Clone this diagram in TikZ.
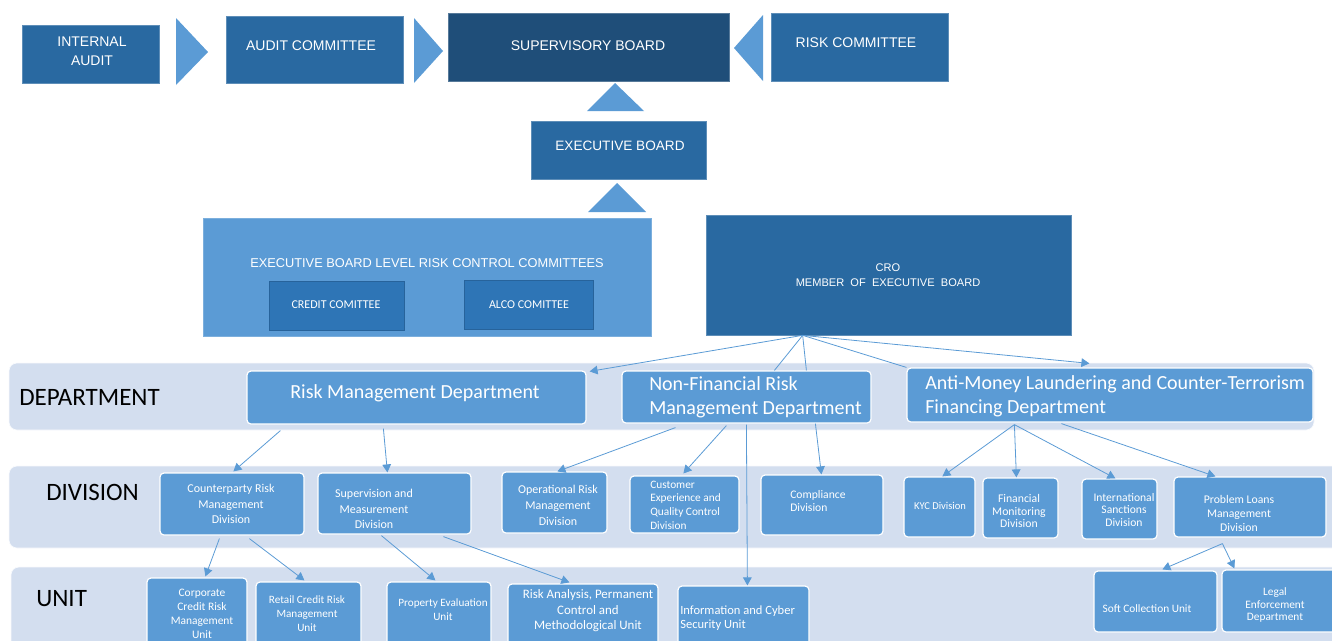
\documentclass[tikz,border=0pt]{standalone}
\usepackage{fontspec}
\setmainfont{Carlito}
\newfontfamily\arialf{Liberation Sans}
\usetikzlibrary{arrows.meta,calc}
\definecolor{midb}{RGB}{41,105,161}
\definecolor{navyb}{RGB}{31,78,121}
\definecolor{accb}{RGB}{46,117,182}
\definecolor{lb}{RGB}{91,155,213}
\definecolor{bandc}{RGB}{211,222,239}
\definecolor{lnc}{RGB}{91,155,213}
\newcommand\mkbox[6]{\pgfmathsetmacro\mkW{(#4-#2)*0.75}\pgfmathsetmacro\mkH{(#5-#3)*0.75}%
  \node[#6, minimum width=\mkW pt, minimum height=\mkH pt, inner sep=0pt] (#1) at ({(#2+#4)/2},{(#3+#5)/2}) {};}
\tikzset{
  topbox/.style={fill=midb, draw=midb!75!white, line width=0.5pt},
  navybox/.style={fill=navyb, draw=navyb!75!white, line width=0.5pt},
  combox/.style={fill=accb, draw=accb!85!black, line width=0.4pt},
  lightbox/.style={fill=lb, draw=lb!80!white, line width=0.5pt},
  orgbox/.style={fill=lb, draw=white, line width=0.9pt, rounded corners=3pt},
  band/.style={fill=bandc, draw=white!85!bandc, line width=0.5pt, rounded corners=6pt},
  tri/.style={fill=lb},
  wt/.style={text=white, inner sep=0pt, align=center},
  wl/.style={text=white, inner sep=0pt, align=left, anchor=west},
  lvl/.style={text=black, inner sep=0pt, anchor=west, font={\fontsize{18.75}{22}\selectfont}},
  conn/.style={draw=lnc, line width=0.6pt},
  arr/.style={conn, -{Triangle[width=6.5pt,length=6pt]}},
}
\begin{document}
\begin{tikzpicture}[x=0.75pt,y=-0.75pt]
\useasboundingbox (0,0) rectangle (1332,640);
\clip (0,0) rectangle (1332,640);
% ---------- top row ----------
\mkbox{ia}{22}{25}{159}{83}{topbox}
\node[wt, font={\arialf\fontsize{10.5}{14}\selectfont}] (iat) at (92,51) {INTERNAL\\AUDIT};
\fill[tri] (176,18) -- (208,52) -- (176,85) -- cycle;
\mkbox{ac}{226}{16}{403}{83}{topbox}
\node[wt, font={\arialf\fontsize{10.5}{13}\selectfont}] (act) at (311,46) {AUDIT COMMITTEE};
\fill[tri] (414,18) -- (443,51) -- (414,83) -- cycle;
\mkbox{sb}{448}{13}{729}{81}{navybox}
\node[wt, font={\arialf\fontsize{10.5}{13}\selectfont}] (sbt) at (588,46) {SUPERVISORY BOARD};
\fill[tri] (763,15) -- (734,48) -- (763,81) -- cycle;
\mkbox{rc}{771}{13}{948}{81}{topbox}
\node[wt, font={\arialf\fontsize{10.5}{13}\selectfont}] (rct) at (856,43) {RISK COMMITTEE};
% ---------- executive board ----------
\fill[tri] (615,83) -- (644,111) -- (587,111) -- cycle;
\mkbox{eb}{531}{121}{706}{179}{topbox}
\node[wt, font={\arialf\fontsize{10.2}{13}\selectfont}] (ebt) at (620,146) {EXECUTIVE BOARD};
\fill[tri] (617,183) -- (646,212) -- (588,212) -- cycle;
% ---------- committees ----------
\mkbox{ebl}{203}{218}{651}{336}{lightbox}
\node[wt, font={\arialf\fontsize{9.6}{12}\selectfont}] (eblt) at (427,263) {EXECUTIVE BOARD LEVEL RISK CONTROL COMMITTEES};
\mkbox{cc}{269}{281}{404}{330}{combox}
\node[wt, font={\fontsize{9}{11}\selectfont}] (cct) at (336,305) {CREDIT COMITTEE};
\mkbox{alco}{464}{280}{593}{329}{combox}
\node[wt, font={\fontsize{9}{11}\selectfont}] (alcot) at (529,305) {ALCO COMITTEE};
\mkbox{cro}{706}{215}{1071}{335}{topbox}
\node[wt, font={\arialf\fontsize{8.3}{11.2}\selectfont}] (crot) at (888,275.5) {CRO\\MEMBER\ \ OF\ \ EXECUTIVE\ \ BOARD};
% ---------- bands ----------
\mkbox{bdep}{9}{363}{1314}{430}{band}
\mkbox{bdiv}{9}{466}{1345}{548}{band}
\mkbox{bunit}{11}{567}{1345}{660}{band}
\node[lvl] (ldep) at (19,397) {DEPARTMENT};
\node[lvl] (ldiv) at (46,492) {DIVISION};
\node[lvl] (lunit) at (36,599) {UNIT};
% ---------- departments ----------
\mkbox{rmd}{247}{371}{586}{424}{orgbox}
\node[wt, font={\fontsize{15}{18}\selectfont}] (rmdt) at (415,393) {Risk Management Department};
\mkbox{nf}{622}{371}{871}{423}{orgbox}
\node[wl, font={\fontsize{15}{18}\selectfont}] (nft) at (649,397) {Non-Financial Risk\\Management Department};
\mkbox{aml}{907}{368}{1313}{422}{orgbox}
\node[wl, font={\fontsize{15}{18}\selectfont}] (amlt) at (925,396) {Anti-Money Laundering and Counter-Terrorism\\Financing Department};
% ---------- divisions ----------
\mkbox{cp}{160}{473}{304}{535}{orgbox}
\node[wt, font={\fontsize{9}{11.5}\selectfont}] (cpt) at (231,504) {Counterparty Risk\\Management\\Division};
\mkbox{sm}{318}{473}{471}{534}{orgbox}
\node[wt, font={\fontsize{9}{11.5}\selectfont}] (smt) at (374,509) {Supervision and\\Measurement\\Division};
\mkbox{op}{502}{472}{607}{533}{orgbox}
\node[wt, font={\fontsize{9}{12}\selectfont}] (opt) at (558,505) {Operational Risk\\Management\\Division};
\mkbox{ce}{630}{476}{739}{533}{orgbox}
\node[wl, font={\fontsize{8.5}{10.3}\selectfont}] (cet) at (650,505) {Customer\\Experience and\\Quality Control\\Division};
\mkbox{comp}{761}{475}{883}{535}{orgbox}
\node[wl, font={\fontsize{8.7}{9.8}\selectfont}] (compt) at (790,501) {Compliance\\Division};
\mkbox{kyc}{904}{477}{975}{537}{orgbox}
\node[wt, font={\fontsize{7.9}{9.5}\selectfont}] (kyct) at (940,506) {KYC Division};
\mkbox{fm}{983}{478}{1058}{538}{orgbox}
\node[wt, font={\fontsize{8.8}{9.4}\selectfont}] (fmt) at (1019,511) {Financial\\Monitoring\\Division};
\mkbox{is}{1082}{479}{1157}{539}{orgbox}
\node[wt, font={\fontsize{8.7}{9.4}\selectfont}] (ist) at (1124,510) {International\\Sanctions\\Division};
\mkbox{pl}{1174}{477}{1326}{537}{orgbox}
\node[wt, font={\fontsize{8.8}{10.5}\selectfont}] (plt) at (1239,513) {Problem Loans\\Management\\Division};
% ---------- units ----------
\mkbox{corp}{147}{578}{247}{650}{orgbox}
\node[wt, font={\fontsize{8.6}{10.5}\selectfont}] (corpt) at (202,614) {Corporate\\Credit Risk\\Management\\Unit};
\mkbox{ret}{256}{582}{361}{650}{orgbox}
\node[wt, font={\fontsize{8.4}{10.5}\selectfont}] (rett) at (307,614) {Retail Credit Risk\\Management\\Unit};
\mkbox{prop}{387}{582}{491}{650}{orgbox}
\node[wt, font={\fontsize{8.4}{10.5}\selectfont}] (propt) at (443,610) {Property Evaluation\\Unit};
\mkbox{ra}{508}{584}{658}{650}{orgbox}
\node[wt, font={\fontsize{9.7}{11.6}\selectfont}] (rat) at (588,611) {Risk Analysis, Permanent\\Control and\\Methodological Unit};
\mkbox{ics}{678}{586}{809}{650}{orgbox}
\node[wl, font={\fontsize{9.4}{10.5}\selectfont}] (icst) at (680,618) {Information and Cyber\\Security Unit};
\mkbox{sc}{1094}{571}{1217}{632}{orgbox}
\node[wt, font={\fontsize{8.5}{10}\selectfont}] (sct) at (1147,609) {Soft Collection Unit};
\mkbox{le}{1222}{570}{1345}{632}{orgbox}
\node[wt, font={\fontsize{8.5}{9.4}\selectfont}] (let) at (1275,605) {Legal\\Enforcement\\Department};
% ---------- connectors ----------
\coordinate (croS) at ($(cro.south west)+(97,0)$);
\draw[arr] (croS) -- ($(rmd.north east)+(3,1)$);
\draw[conn] (croS) -- ($(nf.north west)+(153,0)$);
\draw[conn] (croS) -- ($(nf.north west)+(185,0)$);
\draw[conn] (croS) -- (aml.north west);
\draw[arr] (croS) -- ($(aml.north west)+(183,-4)$);
\draw[arr] ($(rmd.south west)+(34,6)$) -- ($(cp.north west)+(74,-1)$);
\draw[arr] ($(rmd.south west)+(137,4)$) -- ($(sm.north west)+(70,0)$);
\draw[arr] ($(nf.south west)+(54,4)$) -- ($(op.north west)+(56,0)$);
\draw[arr] ($(nf.south west)+(105,2)$) -- ($(ce.north west)+(54,-2)$);
\draw[arr] ($(nf.south west)+(194,0)$) -- ($(comp.north west)+(61,0)$);
\draw[arr] ($(nf.south west)+(125,1)$) -- ($(ics.north west)+(70,0)$);
\coordinate (amlS) at ($(aml.south west)+(108,2)$);
\draw[arr] (amlS) -- ($(kyc.north west)+(39,0)$);
\draw[arr] (amlS) -- ($(fm.north west)+(34,0)$);
\draw[arr] (amlS) -- ($(is.north west)+(34,0)$);
\draw[arr] ($(aml.south west)+(155,1)$) -- ($(pl.north west)+(42,0)$);
\draw[arr] ($(cp.south west)+(60,3)$) -- ($(corp.north west)+(59,-1)$);
\draw[arr] ($(cp.south west)+(90,3)$) -- ($(ret.north west)+(49,-1)$);
\draw[arr] ($(sm.south west)+(64,1)$) -- ($(prop.north west)+(49,-1)$);
\draw[arr] ($(sm.south west)+(126,2)$) -- ($(ra.north west)+(62,-1)$);
\coordinate (plS) at ($(pl.south west)+(49,6)$);
\draw[arr] (plS) -- ($(sc.north west)+(69,-1)$);
\draw[arr] (plS) -- ($(le.north west)+(13,-1)$);
\end{tikzpicture}
\end{document}
